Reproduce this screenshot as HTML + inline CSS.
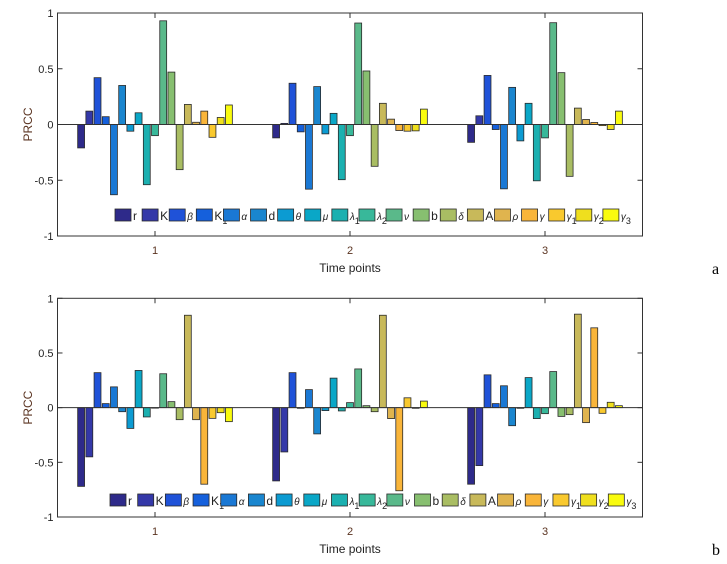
<!DOCTYPE html>
<html><head><meta charset="utf-8"><style>
body{margin:0;background:#fff;width:727px;height:564px;overflow:hidden;font-family:"Liberation Sans",sans-serif}
svg{position:absolute;left:0;top:0}
</style></head><body>
<svg id="chart" width="727" height="564"></svg>
<script>
const categories = ["1","2","3"];
const params = ["r","K","β","K1","α","d","θ","μ","λ1","λ2","ν","b","δ","A","ρ","γ","γ1","γ2","γ3"];
const colors = ["#2e2a8a","#3438a8","#1f52d8","#1560dc","#1a78d4","#1a86cf","#0c9bd2","#0aa7c7","#1bb0b0","#38b89a","#5ab98a","#87bf70","#a9bd63","#c8b95a","#e0b44e","#f9b53a","#f9c92e","#efdf1e","#f9fb0e"];
const yTicks = [1,0.5,0,-0.5,-1];
// panel a: values per time point (19 params each)
const seriesA1 = [-0.21,0.12,0.42,0.07,-0.63,0.35,-0.06,0.105,-0.54,-0.10,0.93,0.47,-0.405,0.18,0.02,0.12,-0.115,0.063,0.175];
const seriesA2 = [-0.12,0.01,0.37,-0.066,-0.58,0.34,-0.084,0.10,-0.495,-0.10,0.91,0.48,-0.375,0.19,0.048,-0.054,-0.06,-0.057,0.138];
const seriesA3 = [-0.16,0.078,0.44,-0.045,-0.577,0.333,-0.147,0.19,-0.505,-0.12,0.913,0.465,-0.465,0.147,0.045,0.018,-0.01,-0.045,0.12];
// panel b
const seriesB1 = [-0.72,-0.45,0.32,0.037,0.19,-0.037,-0.19,0.34,-0.085,0.0,0.31,0.055,-0.11,0.845,-0.11,-0.70,-0.098,-0.046,-0.128];
const seriesB2 = [-0.67,-0.405,0.32,-0.006,0.165,-0.24,-0.027,0.27,-0.03,0.046,0.354,0.018,-0.037,0.845,-0.10,-0.76,0.09,-0.006,0.06];
const seriesB3 = [-0.70,-0.53,0.30,0.037,0.20,-0.165,-0.006,0.275,-0.10,-0.055,0.33,-0.08,-0.064,0.855,-0.137,0.73,-0.052,0.049,0.018];

const NS="http://www.w3.org/2000/svg";
const svg=document.getElementById('chart');
function mk(tag,attrs,parent){const e=document.createElementNS(NS,tag);for(const k in attrs)e.setAttribute(k,attrs[k]);(parent||svg).appendChild(e);return e;}
const X0=57.5,X1=642.5;
function xScale(v){return X0+(v-0.5)/3*(X1-X0);}

function panel(top,bottom,data,legendX0,legendX1,legendY,letter,id){
  const g=mk('g',{});
  
  
  const yS=v=>top+(1-v)/2*(bottom-top);
  // frame
  const fr=mk('rect',{x:X0,y:top,width:X1-X0,height:bottom-top,fill:'none',stroke:'#333','stroke-width':1},g);
  
  
  // y ticks
  yTicks.forEach(t=>{
    const y=yS(t);
    mk('line',{x1:X0,x2:X0+5,y1:y,y2:y,stroke:'#333'},g);
    mk('line',{x1:X1,x2:X1-5,y1:y,y2:y,stroke:'#333'},g);
    const tx=mk('text',{x:X0-4,y:y+4,'text-anchor':'end','font-size':11,fill:'#222'},g);
    tx.textContent=String(t);
    
    
  });
  categories.forEach((c,i)=>{
    const x=xScale(i+1);
    mk('line',{x1:x,x2:x,y1:bottom,y2:bottom-5,stroke:'#333'},g);
    mk('line',{x1:x,x2:x,y1:top,y2:top+5,stroke:'#333'},g);
    const tx=mk('text',{x:x,y:bottom+18,'text-anchor':'middle','font-size':11,fill:'#5a3320'},g);
    tx.textContent=c;
    
    
  });
  const yl=mk('text',{x:0,y:0,transform:`translate(32,${(top+bottom)/2}) rotate(-90)`,'text-anchor':'middle','font-size':12,fill:'#5a3320'},g);
  yl.textContent='PRCC';
  
  
  const xl=mk('text',{x:xScale(2),y:bottom+36,'text-anchor':'middle','font-size':12,fill:'#222'},g);
  xl.textContent='Time points';
  
  
  const pl=mk('text',{x:712,y:bottom+38,'font-size':16,'font-family':'Liberation Serif, serif',fill:'#000'},g);
  pl.textContent=letter;
  
  
  // bars
  const n=params.length, slot=0.8/n;
  data.forEach((vals,gi)=>{
    vals.forEach((v,bi)=>{
      const xc=(gi+1)-0.4+slot*(bi+0.5);
      const xl0=xScale(xc-slot*0.42), xr=xScale(xc+slot*0.42);
      const y0=yS(0), yv=yS(v);
      const r=mk('rect',{x:xl0,y:Math.min(y0,yv),width:xr-xl0,height:Math.max(0.5,Math.abs(yv-y0)),fill:colors[bi],stroke:'#2a2a2a','stroke-width':0.8},g);
      
      
    });
  });
  mk('line',{x1:X0,x2:X1,y1:yS(0),y2:yS(0),stroke:'#333','stroke-width':1},g);
  // legend
  const lg=mk('g',{},g);
  
  
  const step=(legendX1-legendX0)/n;
  params.forEach((p,i)=>{
    const lx=legendX0+i*step;
    const e=mk('g',{},lg);
    
    
    mk('rect',{x:lx,y:legendY,width:16,height:12,fill:colors[i],stroke:'#2a2a2a','stroke-width':0.8},e);
    const greek=/[βαθμλνδργ]/.test(p);
    const t=mk('text',{x:lx+18,y:legendY+11,'font-size':greek?10:12,'font-style':greek?'italic':'normal',fill:'#222'},e);
    const base=p.replace(/\d/,''), sub=(p.match(/\d/)||[''])[0];
    const t1=mk('tspan',{},t);t1.textContent=base;
    if(sub){const t2=mk('tspan',{dy:4,'font-size':9,'font-style':'normal'},t);t2.textContent=sub;}
  });
}
panel(13,236,[seriesA1,seriesA2,seriesA3],115,630,209,'a','a');
panel(298.3,517,[seriesB1,seriesB2,seriesB3],110,636,494,'b','b');
</script>
</body></html>
